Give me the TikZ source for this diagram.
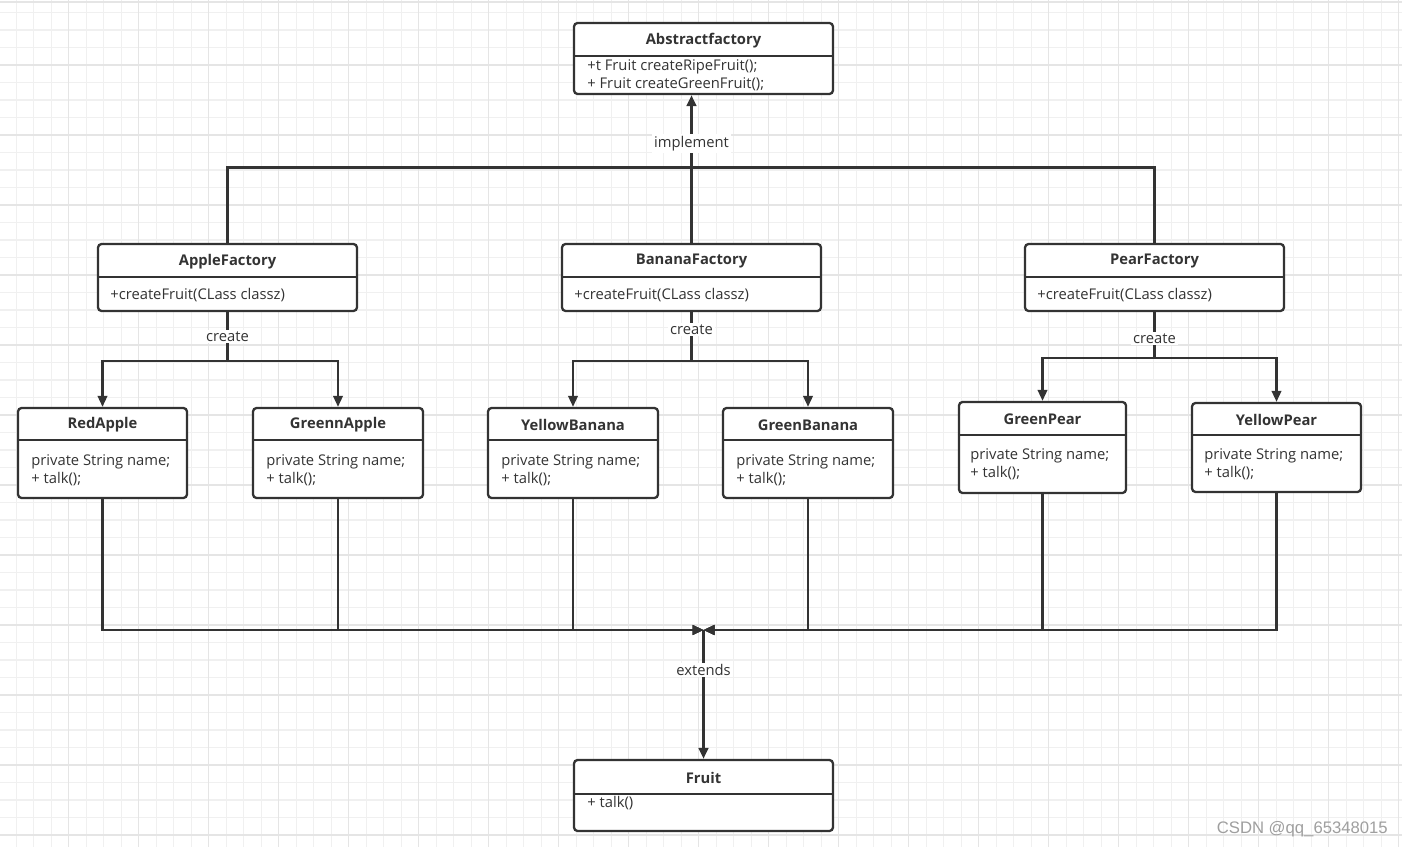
\documentclass[tikz,border=0pt]{standalone}
\usepackage{fontspec}
\setmainfont{Open Sans}
\newfontfamily\markfont{Liberation Sans}
\usetikzlibrary{arrows.meta}
\definecolor{ink}{HTML}{333333}
\definecolor{gridminor}{HTML}{F0F0F0}
\definecolor{gridmajor}{HTML}{E5E5E5}

\begin{document}
\begin{tikzpicture}[x=0.02cm, y=-0.02cm, text=ink,
    font=\fontsize{8.4}{10.2}\selectfont,
    cls/.style={draw=ink, line width=1.3pt, rounded corners=2pt, fill=white, inner sep=0pt},
    clsname/.style={font=\fontsize{8.4}{10.2}\selectfont\bfseries},
    clsbody/.style={anchor=west, align=left, inner sep=0pt},
    wire/.style={draw=ink, line width=1.3pt},
    trunk/.style={draw=ink, line width=2pt},
    arrowed/.style={-{Triangle[length=0.22cm,width=0.19cm]}},
    lbl/.style={fill=white, inner sep=1pt}]

    % background and grid
    \useasboundingbox (0,0) rectangle (1402,847);
    \fill[white] (0,0) rectangle (1402,847);
    \foreach \gx in {16.2,33.7,...,1402} \draw[gridminor, line width=0.6pt] (\gx,0) -- (\gx,847);
    \foreach \gy in {12.5,30,...,847} \draw[gridminor, line width=0.6pt] (0,\gy) -- (1402,\gy);
    \foreach \gx in {68.7,138.7,...,1402} \draw[gridmajor, line width=0.6pt] (\gx,0) -- (\gx,847);
    \foreach \gy in {65,135,...,847} \draw[gridmajor, line width=0.6pt] (0,\gy) -- (1402,\gy);
    \draw[gridmajor, line width=0.6pt] (0,2) -- (1402,2);

    % abstract factory
    \node[cls, minimum width=5.18cm, minimum height=1.42cm] (absf) at (703.5,58.5) {};
    \node[clsname] at (703.5,40.5) {Abstractfactory};
    \draw[wire] ([yshift=-0.68cm]absf.north west) -- ([yshift=-0.68cm]absf.north east);
    \node[clsbody] at (587,75.5) {+t Fruit createRipeFruit();\\+ Fruit createGreenFruit();};

    % factories
    \node[cls, minimum width=5.18cm, minimum height=1.34cm] (afac) at (227.5,277.5) {};
    \node[clsname] at (227.5,261.5) {AppleFactory};
    \draw[wire] ([yshift=-0.68cm]afac.north west) -- ([yshift=-0.68cm]afac.north east);
    \node[clsbody] at (110,295.5) {+createFruit(CLass classz)};

    \node[cls, minimum width=5.18cm, minimum height=1.34cm] (bfac) at (691.5,277.5) {};
    \node[clsname] at (691.5,261.5) {BananaFactory};
    \draw[wire] ([yshift=-0.68cm]bfac.north west) -- ([yshift=-0.68cm]bfac.north east);
    \node[clsbody] at (574,295.5) {+createFruit(CLass classz)};

    \node[cls, minimum width=5.18cm, minimum height=1.34cm] (pfac) at (1154.5,277.5) {};
    \node[clsname] at (1154.5,261.5) {PearFactory};
    \draw[wire] ([yshift=-0.68cm]pfac.north west) -- ([yshift=-0.68cm]pfac.north east);
    \node[clsbody] at (1037,295.5) {+createFruit(CLass classz)};

    % products
    \node[cls, minimum width=3.38cm, minimum height=1.80cm] (rapple) at (102.5,453) {};
    \node[clsname] at (102.5,425) {RedApple};
    \draw[wire] ([yshift=-0.66cm]rapple.north west) -- ([yshift=-0.66cm]rapple.north east);
    \node[clsbody] at (31,470) {private String name;\\+ talk();};

    \node[cls, minimum width=3.40cm, minimum height=1.80cm] (gapple) at (338,453) {};
    \node[clsname] at (338,425) {GreennApple};
    \draw[wire] ([yshift=-0.66cm]gapple.north west) -- ([yshift=-0.66cm]gapple.north east);
    \node[clsbody] at (266,470) {private String name;\\+ talk();};

    \node[cls, minimum width=3.40cm, minimum height=1.80cm] (ybanana) at (573,453) {};
    \node[clsname] at (573,425) {YellowBanana};
    \draw[wire] ([yshift=-0.66cm]ybanana.north west) -- ([yshift=-0.66cm]ybanana.north east);
    \node[clsbody] at (501,470) {private String name;\\+ talk();};

    \node[cls, minimum width=3.40cm, minimum height=1.80cm] (gbanana) at (808,453) {};
    \node[clsname] at (808,425) {GreenBanana};
    \draw[wire] ([yshift=-0.66cm]gbanana.north west) -- ([yshift=-0.66cm]gbanana.north east);
    \node[clsbody] at (736,470) {private String name;\\+ talk();};

    \node[cls, minimum width=3.34cm, minimum height=1.82cm] (gpear) at (1042.5,447.5) {};
    \node[clsname] at (1042.5,419.5) {GreenPear};
    \draw[wire] ([yshift=-0.68cm]gpear.north west) -- ([yshift=-0.68cm]gpear.north east);
    \node[clsbody] at (970,464) {private String name;\\+ talk();};

    \node[cls, minimum width=3.38cm, minimum height=1.78cm] (ypear) at (1276.5,447.5) {};
    \node[clsname] at (1276.5,419.5) {YellowPear};
    \draw[wire] ([yshift=-0.66cm]ypear.north west) -- ([yshift=-0.66cm]ypear.north east);
    \node[clsbody] at (1204,464) {private String name;\\+ talk();};

    % fruit
    \node[cls, minimum width=5.18cm, minimum height=1.42cm] (fruit) at (703.5,795.5) {};
    \node[clsname] at (703.5,777.5) {Fruit};
    \draw[wire] ([yshift=-0.70cm]fruit.north west) -- ([yshift=-0.70cm]fruit.north east);
    \node[clsbody] at (587,803) {+ talk()};

    % implement
    \coordinate (impl) at (691.5,167.5);
    \draw[wire] (afac.north) |- (impl);
    \draw[wire] (pfac.north) |- (impl);
    \draw[wire] (bfac.north) -- (impl);
    \draw[trunk, arrowed] (impl) -- node[lbl, pos=0.33] {implement} (absf.south -| impl);

    % create
    \draw[wire, arrowed] (afac.south) -- ++(0,49) -| (rapple.north);
    \draw[wire, arrowed] (afac.south) -- node[lbl] {create} ++(0,49) -| (gapple.north);
    \draw[wire, arrowed] (bfac.south) -- ++(0,49) -| (ybanana.north);
    \draw[wire, arrowed] (bfac.south) -- node[lbl, pos=0.35] {create} ++(0,49) -| (gbanana.north);
    \draw[wire, arrowed] (pfac.south) -- ++(0,46) -| (gpear.north);
    \draw[wire, arrowed] (pfac.south) -- node[lbl, pos=0.57] {create} ++(0,46) -| (ypear.north);

    % extends
    \coordinate (ext) at (703.5,630);
    \draw[wire, arrowed] (rapple.south) |- (ext);
    \draw[wire, arrowed] (gapple.south) |- (ext);
    \draw[wire, arrowed] (ybanana.south) |- (ext);
    \draw[wire, arrowed] (gbanana.south) |- (ext);
    \draw[wire, arrowed] (gpear.south) |- (ext);
    \draw[wire, arrowed] (ypear.south) |- (ext);
    \draw[trunk, arrowed] (ext) -- node[lbl, pos=0.31] {extends} (fruit.north);

    \node[font=\markfont\fontsize{9.5}{11}\selectfont, text=gray!75, anchor=east] (mark) at (1394,829) {CSDN @qq\_65348015};
\end{tikzpicture}
\end{document}
